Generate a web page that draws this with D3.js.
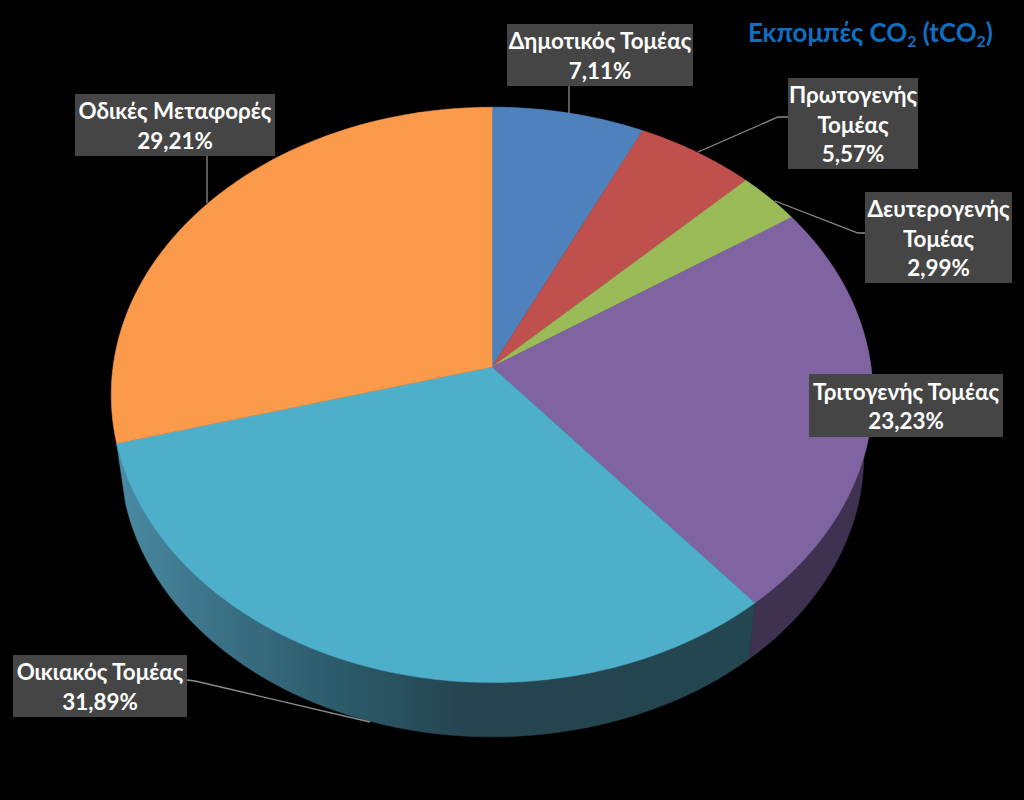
<!DOCTYPE html>
<html><head><meta charset="utf-8">
<script src="https://cdnjs.cloudflare.com/ajax/libs/d3/7.8.5/d3.min.js"></script>
<style>html,body{margin:0;padding:0;background:#000}svg{display:block}</style>
</head><body><svg id="c" width="1024" height="800"></svg>
<script>
const categories=["Δημοτικός Τομέας","Πρωτογενής Τομέας","Δευτερογενής Τομέας","Τριτογενής Τομέας","Οικιακός Τομέας","Οδικές Μεταφορές"];
const values=[7.11,5.57,2.99,23.23,31.89,29.21];
const topColors=["#4f81bd","#c0504d","#9bbb59","#8064a2","#4eafca","#fb9a4b"];
const wallColors=["#2c4a6e","#6e2e2c","#5a6d33","#3f3150","url(#cyanWall)","none"];
const labelLines=[["Δημοτικός Τομέας"],["Πρωτογενής","Τομέας"],["Δευτερογενής","Τομέας"],["Τριτογενής Τομέας"],["Οικιακός Τομέας"],["Οδικές Μεταφορές"]];
// label box layout [x,y,w,h] and leader points, kept apart from the data
const boxes=[[507,24,186,62],[788,78,130,91],[865,192,147,91],[809,374,194,63],[13,655,174,62],[75,94,200,62]];
const leaders=[[[569,86],[569,113]],[[788,117],[778,117],[698,152]],[[865,233],[858,233],[775,201]],null,[[187,680],[195,681],[370,722]],[[207,156],[207,203]]];

const svg=d3.select("#c");
svg.append("rect").attr("width",1024).attr("height",800).attr("fill","#000");
const defs=svg.append("defs");
const g=defs.append("linearGradient").attr("id","cyanWall").attr("gradientUnits","userSpaceOnUse")
 .attr("x1",115).attr("x2",755).attr("y1",0).attr("y2",0);
[[0,"#4a8ba4"],[0.15,"#3c7388"],[0.34,"#2c5c6c"],[0.55,"#25444f"],[1,"#234650"]].forEach(s=>g.append("stop").attr("offset",s[0]).attr("stop-color",s[1]));

// Perspective disc projection: top face and bottom face of the cylinder
const P=0.097;
const topDisc={cx:492,cy:367,R:379,A:285};
const botDisc={cx:492,cy:429,R:370,A:278};
const proj=(d,t)=>{const u=Math.sin(t),v=Math.cos(t),w=1+P*v;return [d.cx+d.R*u/w,d.cy-d.A*v/w];};
const pie=d3.pie().sort(null).value(d=>d)(values);
const samples=(a,b)=>d3.range(0,61).map(i=>a+(b-a)*i/60);
const line=d3.line();

// walls
svg.append("g").selectAll("path").data(pie).join("path")
 .attr("d",d=>{const ts=samples(d.startAngle,d.endAngle);
   return line([...ts.map(t=>proj(topDisc,t)),...ts.slice().reverse().map(t=>proj(botDisc,t))])+"Z";})
 .attr("fill",(d,i)=>wallColors[i]).attr("stroke",(d,i)=>wallColors[i]).attr("stroke-width",0.5);
// top face
svg.append("g").selectAll("path").data(pie).join("path")
 .attr("d",d=>line([[topDisc.cx,topDisc.cy],...samples(d.startAngle,d.endAngle).map(t=>proj(topDisc,t))])+"Z")
 .attr("fill",(d,i)=>topColors[i]).attr("stroke",(d,i)=>topColors[i]).attr("stroke-width",0.5);

// leaders
svg.append("g").selectAll("path").data(leaders.filter(Boolean)).join("path")
 .attr("d",d=>line(d)).attr("fill","none").attr("stroke","#8c8c8c").attr("stroke-width",1.3);

// labels
const fmt=v=>v.toFixed(2).replace(".",",")+"%";
const lab=svg.append("g").selectAll("g").data(categories).join("g");
lab.append("rect").attr("x",(d,i)=>boxes[i][0]).attr("y",(d,i)=>boxes[i][1])
 .attr("width",(d,i)=>boxes[i][2]).attr("height",(d,i)=>boxes[i][3]).attr("fill","#454545");
lab.each(function(d,i){
  const b=boxes[i],rows=[...labelLines[i],fmt(values[i])],step=29.3;
  const y0=b[1]+b[3]/2-step*(rows.length-1)/2+9;
  d3.select(this).selectAll("text").data(rows).join("text")
   .attr("x",b[0]+b[2]/2).attr("y",(r,j)=>y0+j*step)
   .attr("text-anchor","middle").attr("fill","#fff")
   .style("font-family","Lato,'Open Sans',sans-serif").style("font-weight",700).style("font-size","22.4px").text(r=>r);
});

// title
const title=svg.append("text").attr("x",870.5).attr("y",42).attr("text-anchor","middle").attr("fill","#0f6fc0")
 .style("font-family","Lato,'Open Sans',sans-serif").style("font-weight",700).style("font-size","25.9px");
title.append("tspan").text("Εκπομπές CO");
title.append("tspan").attr("dy",5).style("font-size","16px").text("2");
title.append("tspan").attr("dy",-5).text(" (tCO");
title.append("tspan").attr("dy",5).style("font-size","16px").text("2");
title.append("tspan").attr("dy",-5).text(")");
</script></body></html>
